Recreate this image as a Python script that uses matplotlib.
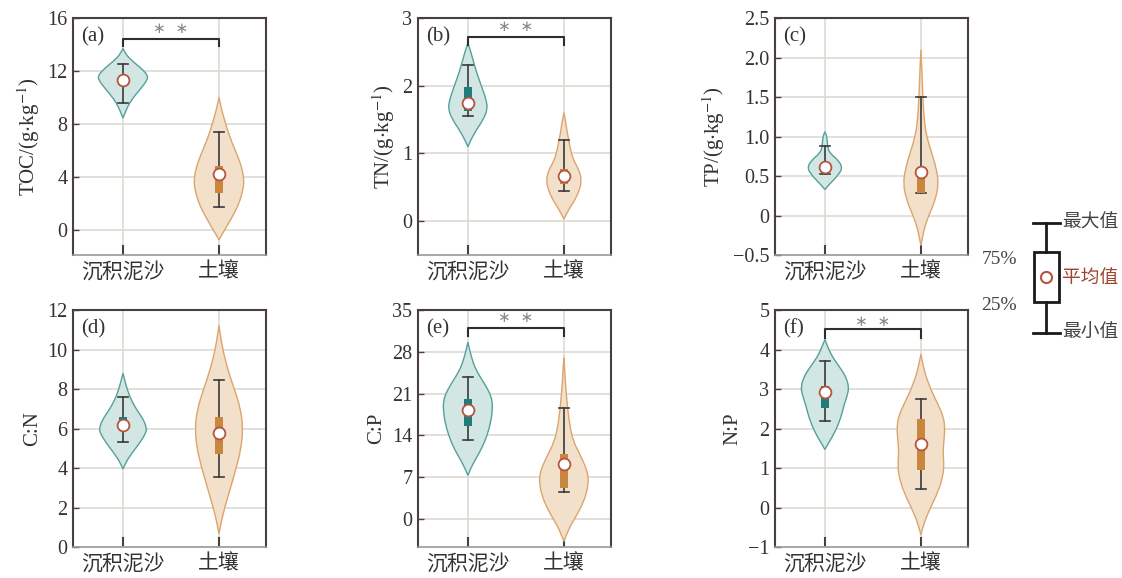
import matplotlib
matplotlib.use('Agg')
import matplotlib.pyplot as plt
from matplotlib.path import Path
from matplotlib.patches import PathPatch, Rectangle

plt.rcParams['font.family'] = ['Liberation Serif', 'Noto Sans CJK SC']
plt.rcParams['mathtext.fontset'] = 'stix'

groups = ['沉积泥沙', '土壤']
panel_tags = ['(a)', '(b)', '(c)', '(d)', '(e)', '(f)']
ylabels = [r'TOC/(g$\cdot$kg$^{-1}$)', r'TN/(g$\cdot$kg$^{-1}$)', r'TP/(g$\cdot$kg$^{-1}$)',
           'C:N', 'C:P', 'N:P']
ylims = [(-1.9, 16), (-0.5, 3), (-0.5, 2.5), (0, 12), (-4.7, 35), (-1, 5)]
yticks = [[0, 4, 8, 12, 16], [0, 1, 2, 3], [-0.5, 0, 0.5, 1.0, 1.5, 2.0, 2.5],
          [0, 2, 4, 6, 8, 10, 12], [0, 7, 14, 21, 28, 35], [-1, 0, 1, 2, 3, 4, 5]]
ytick_labels = [None, None, ['−0.5', '0', '0.5', '1.0', '1.5', '2.0', '2.5'],
                None, None, ['−1', '0', '1', '2', '3', '4', '5']]

# significance bracket: (bar height, leg bottom, star height); None = no bracket
sig = [(14.4, 13.9, 15.2), (2.72, 2.6, 2.87), None, None, (32.0, 30.6, 33.7), (4.52, 4.3, 4.71)]

# summary stats per group: [whisker low, q1, q3, whisker high, mean]
toc_stats = [[9.6, 11.1, 11.5, 12.5, 11.3], [1.7, 2.8, 4.8, 7.4, 4.2]]
tn_stats = [[1.55, 1.63, 1.98, 2.3, 1.75], [0.45, 0.55, 0.77, 1.2, 0.67]]
tp_stats = [[0.52, 0.58, 0.66, 0.88, 0.62], [0.28, 0.28, 0.52, 1.5, 0.55]]
cn_stats = [[5.3, 5.85, 6.6, 7.6, 6.2], [3.55, 4.7, 6.6, 8.45, 5.75]]
cp_stats = [[13.2, 15.5, 20.1, 23.8, 18.3], [4.5, 5.2, 10.8, 18.6, 9.2]]
np_stats = [[2.2, 2.53, 3.07, 3.7, 2.92], [0.48, 0.95, 2.25, 2.75, 1.62]]

# violin outlines: y values and half widths
toc_sed_y = [8.45, 9.0, 9.6, 10.2, 10.8, 11.3, 11.6, 12.0, 12.5, 13.0, 13.4, 13.7]
toc_sed_w = [0, 0.03, 0.07, 0.13, 0.2, 0.25, 0.26, 0.22, 0.14, 0.06, 0.02, 0]
toc_soil_y = [-0.75, 0, 1, 2, 3, 3.7, 4.5, 5.5, 6.5, 7.5, 8.5, 9.3, 10.0]
toc_soil_w = [0, 0.06, 0.14, 0.21, 0.25, 0.26, 0.245, 0.2, 0.14, 0.09, 0.05, 0.02, 0]

tn_sed_y = [1.10, 1.2, 1.35, 1.5, 1.65, 1.8, 2.0, 2.2, 2.4, 2.55, 2.63]
tn_sed_w = [0, 0.03, 0.09, 0.16, 0.205, 0.19, 0.14, 0.09, 0.05, 0.02, 0]
tn_soil_y = [0.03, 0.15, 0.3, 0.45, 0.6, 0.75, 0.9, 1.05, 1.2, 1.35, 1.5, 1.6]
tn_soil_w = [0, 0.04, 0.11, 0.16, 0.185, 0.16, 0.1, 0.07, 0.05, 0.03, 0.015, 0]

tp_sed_y = [0.33, 0.4, 0.5, 0.6, 0.7, 0.78, 0.85, 0.95, 1.02, 1.06]
tp_sed_w = [0, 0.05, 0.13, 0.185, 0.14, 0.06, 0.03, 0.025, 0.015, 0]
tp_soil_y = [-0.38, -0.25, -0.1, 0.05, 0.2, 0.4, 0.6, 0.8, 1.0, 1.2, 1.5, 1.8, 2.1]
tp_soil_w = [0, 0.02, 0.05, 0.1, 0.15, 0.185, 0.16, 0.11, 0.06, 0.035, 0.02, 0.012, 0]

cn_sed_y = [3.95, 4.3, 4.8, 5.3, 5.8, 6.0, 6.4, 6.9, 7.4, 7.9, 8.4, 8.8]
cn_sed_w = [0, 0.03, 0.1, 0.18, 0.24, 0.245, 0.22, 0.15, 0.09, 0.05, 0.02, 0]
cn_soil_y = [0.68, 1.2, 2, 3, 4, 5, 6, 7, 8, 9, 10, 10.7, 11.23]
cn_soil_w = [0, 0.02, 0.06, 0.12, 0.18, 0.23, 0.25, 0.225, 0.16, 0.09, 0.04, 0.015, 0]

cp_sed_y = [7.3, 8.5, 10, 12, 14, 16, 18, 19.7, 21, 22.5, 24, 25.5, 27, 28.5, 29.6]
cp_sed_w = [0, 0.03, 0.08, 0.15, 0.2, 0.235, 0.255, 0.255, 0.23, 0.18, 0.12, 0.07, 0.04, 0.015, 0]
cp_soil_y = [-3.75, -2, 0, 2, 4, 6, 7.5, 9, 11, 13, 15, 17, 20, 23, 25.5, 27]
cp_soil_w = [0, 0.04, 0.11, 0.18, 0.23, 0.255, 0.25, 0.22, 0.16, 0.1, 0.07, 0.05, 0.03, 0.015, 0.007, 0]

np_sed_y = [1.47, 1.6, 1.8, 2.1, 2.4, 2.6, 2.85, 3.05, 3.3, 3.5, 3.7, 3.9, 4.1, 4.25]
np_sed_w = [0, 0.03, 0.08, 0.14, 0.18, 0.2, 0.235, 0.25, 0.22, 0.17, 0.11, 0.06, 0.025, 0]
np_soil_y = [-0.69, -0.4, 0, 0.4, 0.8, 1.1, 1.4, 1.7, 2.0, 2.3, 2.6, 2.9, 3.2, 3.5, 3.88]
np_soil_w = [0, 0.03, 0.1, 0.18, 0.23, 0.24, 0.23, 0.24, 0.25, 0.235, 0.18, 0.12, 0.07, 0.03, 0]

stats = [toc_stats, tn_stats, tp_stats, cn_stats, cp_stats, np_stats]
outlines = [
    [(toc_sed_y, toc_sed_w), (toc_soil_y, toc_soil_w)],
    [(tn_sed_y, tn_sed_w), (tn_soil_y, tn_soil_w)],
    [(tp_sed_y, tp_sed_w), (tp_soil_y, tp_soil_w)],
    [(cn_sed_y, cn_sed_w), (cn_soil_y, cn_soil_w)],
    [(cp_sed_y, cp_sed_w), (cp_soil_y, cp_soil_w)],
    [(np_sed_y, np_sed_w), (np_soil_y, np_soil_w)],
]

fill_colors = ['#d2e6e3', '#f2e0cb']
edge_colors = ['#55a09b', '#dba56c']
box_colors = ['#1f7c78', '#c8863e']
mean_edge = '#b5553f'
dark = '#4a3f3f'
grid_c = '#dcdcd2'
txt_c = '#333333'


def smooth_half(pts):
    # quadratic bezier through midpoints of the outline points
    verts, codes = [], []
    for i in range(1, len(pts) - 1):
        nxt = pts[i + 1] if i == len(pts) - 2 else ((pts[i][0] + pts[i + 1][0]) / 2,
                                                   (pts[i][1] + pts[i + 1][1]) / 2)
        verts += [pts[i], nxt]
        codes += [Path.CURVE3, Path.CURVE3]
    return verts, codes


def draw_violin(ax, pos, ys, ws, fc, ec):
    right = [(pos + w, y) for y, w in zip(ys, ws)]
    left = [(pos - w, y) for y, w in zip(ys[::-1], ws[::-1])]
    v1, c1 = smooth_half(right)
    v2, c2 = smooth_half(left)
    verts = [right[0]] + v1 + v2 + [right[0]]
    codes = [Path.MOVETO] + c1 + c2 + [Path.CLOSEPOLY]
    ax.add_patch(PathPatch(Path(verts, codes), facecolor=fc, edgecolor=ec, lw=1.0, zorder=2))


def draw_box(ax, pos, st, bc):
    lo, q1, q3, hi, mean = st
    ax.plot([pos, pos], [lo, hi], color='#3a3a3a', lw=1.2, zorder=3)
    for yv in (lo, hi):
        ax.plot([pos - 0.05, pos + 0.05], [yv, yv], color='#3a3a3a', lw=1.2, zorder=3)
    ax.add_patch(Rectangle((pos - 0.038, q1), 0.076, q3 - q1, facecolor=bc,
                           edgecolor='none', zorder=4))
    ax.plot(pos, mean, 'o', ms=8.5, mfc='white', mec=mean_edge, mew=1.3, zorder=5)


fig = plt.figure(figsize=(11.22, 5.78), dpi=100)
lefts = [0.0651, 0.3725, 0.6907]
bottoms = [0.5588, 0.0536]
w_ax, h_ax = 0.172, 0.410

for k in range(6):
    ax = fig.add_axes([lefts[k % 3], bottoms[k // 3], w_ax, h_ax])
    for g in range(2):
        ys, ws = outlines[k][g]
        draw_violin(ax, g, ys, ws, fill_colors[g], edge_colors[g])
        draw_box(ax, g, stats[k][g], box_colors[g])

    ax.set_xlim(-0.52, 1.49)
    ax.set_ylim(*ylims[k])
    ax.set_xticks([0, 1])
    ax.set_xticklabels(groups)
    ax.set_yticks(yticks[k])
    if ytick_labels[k] is not None:
        ax.set_yticklabels(ytick_labels[k])
    ax.tick_params(axis='y', direction='in', length=4, width=1, color=dark,
                   labelsize=14.5, labelcolor=txt_c, pad=4)
    ax.tick_params(axis='x', direction='in', length=7, width=1.5, color=dark,
                   labelsize=15, labelcolor=txt_c, pad=6)
    ax.grid(True, color=grid_c, lw=1.2, zorder=0)
    ax.set_axisbelow(True)
    for s in ['left', 'top', 'right']:
        ax.spines[s].set_color(dark)
        ax.spines[s].set_linewidth(1.5)
    ax.spines['bottom'].set_color('#9a9a9a')
    ax.spines['bottom'].set_linewidth(1.2)
    ax.set_ylabel(ylabels[k], fontsize=15, color=txt_c, labelpad=4)
    ax.text(0.04, 0.96, panel_tags[k], transform=ax.transAxes, fontsize=15,
            color=txt_c, va='top', ha='left')

    if sig[k] is not None:
        bar, leg, star = sig[k]
        ax.plot([0, 0, 1, 1], [leg, bar, bar, leg], color='#2e2e2e', lw=1.5, zorder=3)
        ax.text(0.5, star, '∗  ∗', ha='center', va='center', fontsize=11,
                color='#888888', family='DejaVu Sans')

# legend key on the right
lg = fig.add_axes([0, 0, 1, 1])
lg.set_xlim(0, 1122)
lg.set_ylim(578, 0)
lg.axis('off')
kc = '#1a1a1a'
lg.plot([1046, 1046], [223, 252], color=kc, lw=2)
lg.plot([1046, 1046], [302, 333], color=kc, lw=2)
lg.plot([1033, 1060], [223, 223], color=kc, lw=2)
lg.plot([1033, 1060], [333, 333], color=kc, lw=2)
lg.add_patch(Rectangle((1034, 252), 25, 50, facecolor='white', edgecolor=kc, lw=2))
lg.plot(1046, 277, 'o', ms=8, mfc='none', mec='#b5553f', mew=1.5)
lg.text(1062, 223, '最大值', fontsize=13.5, va='center', ha='left', color='#444444')
lg.text(1062, 278, '平均值', fontsize=13.5, va='center', ha='left', color='#a0442f')
lg.text(1062, 333, '最小值', fontsize=13.5, va='center', ha='left', color='#444444')
lg.text(1017, 260, '75%', fontsize=14, va='center', ha='right', color='#444444')
lg.text(1017, 306, '25%', fontsize=14, va='center', ha='right', color='#444444')

fig.savefig('out.png', dpi=100)
